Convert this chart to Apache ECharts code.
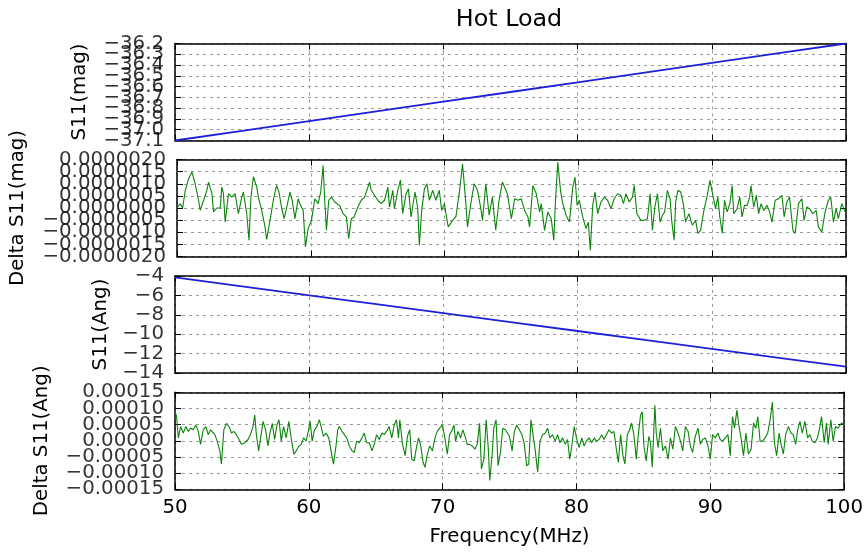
<!DOCTYPE html>
<html>
<head>
<meta charset="utf-8">
<script src="https://cdn.jsdelivr.net/npm/echarts@6/dist/echarts.min.js"></script>
<style>
html,body{margin:0;padding:0;background:#fff;}
#chart{width:866px;height:555px;}
</style>
</head>
<body>
<div id="chart"></div>
<script>
// ---- data ----
const titleText = 'Hot Load';
const xLabel = 'Frequency(MHz)';
const yNames = ['S11(mag)', 'Delta S11(mag)', 'S11(Ang)', 'Delta S11(Ang)'];

// panel 1: S11 magnitude (dB) vs frequency (MHz)
const freqMag = [50, 55, 60, 65, 70, 75, 80, 85, 90, 95, 100];
const s11Mag = [-37.10, -37.01, -36.92, -36.83, -36.74, -36.65, -36.56, -36.47, -36.38, -36.29, -36.20];

// panel 3: S11 angle (deg)
const freqAng = [50, 55, 60, 65, 70, 75, 80, 85, 90, 95, 100];
const s11Ang = [-4.15, -5.07, -5.99, -6.91, -7.83, -8.75, -9.67, -10.59, -11.51, -12.43, -13.35];

// panel 2: delta S11 magnitude, [MHz, value in units of 1e-6]
const deltaMag = [
[50.00,0.00],[50.25,0.18],[50.42,0.00],[50.62,0.73],[50.87,1.21],[51.12,1.48],[51.36,1.00],[51.61,0.32],[51.74,-0.10],[51.99,0.32],
[52.23,0.73],[52.36,1.07],[52.61,0.59],[52.73,-0.16],[52.98,0.00],[53.23,0.00],[53.35,0.86],[53.47,0.59],[53.60,-0.58],[53.85,0.59],
[54.09,0.45],[54.34,0.59],[54.59,-0.23],[54.84,0.45],[54.96,0.66],[55.21,-0.23],[55.38,-1.33],[55.53,0.45],[55.71,1.29],[55.96,0.86],
[56.08,0.45],[56.33,-0.10],[56.58,-0.78],[56.70,-1.30],[56.95,-0.51],[57.20,0.32],[57.44,0.93],[57.62,0.66],[57.82,0.00],[58.01,-0.44],
[58.26,0.18],[58.44,0.66],[58.61,0.32],[58.81,-0.44],[59.06,0.38],[59.18,0.18],[59.43,-0.10],[59.60,-1.60],[59.80,-0.85],[60.05,-0.51],
[60.30,0.38],[60.55,0.18],[60.74,0.66],[60.92,1.75],[61.04,0.32],[61.17,-0.92],[61.34,0.32],[61.54,0.45],[61.79,0.25],[62.16,0.10],
[62.41,-0.23],[62.66,-0.37],[62.83,-1.26],[63.03,-0.44],[63.23,-0.37],[63.52,0.04],[63.77,0.32],[64.02,0.45],[64.27,0.86],[64.39,1.07],
[64.52,0.73],[64.76,0.52],[65.01,0.32],[65.26,0.18],[65.51,0.32],[65.76,0.86],[65.88,0.04],[66.13,0.73],[66.25,-0.03],[66.50,0.73],
[66.70,1.15],[66.87,-0.23],[67.12,0.59],[67.30,0.79],[67.49,-0.37],[67.79,0.66],[67.99,0.00],[68.11,-1.53],[68.29,-0.10],[68.49,0.79],
[68.68,1.00],[68.86,0.32],[69.11,0.73],[69.35,0.32],[69.60,0.73],[69.78,-0.10],[69.98,0.18],[70.27,-0.78],[70.60,-0.51],[70.84,-0.37],
[71.09,0.59],[71.34,1.81],[71.59,0.18],[71.71,-0.78],[71.96,0.18],[72.21,1.00],[72.46,0.73],[72.70,0.00],[72.83,-0.51],[73.08,1.00],
[73.33,-0.30],[73.57,0.45],[73.82,-0.92],[74.07,0.32],[74.32,1.07],[74.69,0.59],[74.99,-0.44],[75.24,0.38],[75.48,0.32],[75.73,0.38],
[75.98,-0.10],[76.23,-0.37],[76.35,-0.78],[76.60,0.93],[76.85,0.59],[77.10,-0.16],[77.22,0.18],[77.47,-0.92],[77.72,-0.16],[77.97,-0.44],
[78.16,-1.33],[78.29,0.32],[78.46,1.89],[78.66,0.73],[78.83,0.18],[79.08,-0.30],[79.33,-0.58],[79.58,0.86],[79.75,1.27],[79.90,0.11],
[80.07,0.32],[80.32,-0.37],[80.57,-0.85],[80.74,-0.58],[80.89,-1.74],[81.07,0.11],[81.24,0.66],[81.44,-0.23],[81.69,0.25],[81.94,0.45],
[82.18,0.32],[82.43,-0.03],[82.68,0.38],[82.93,0.59],[83.18,0.52],[83.37,0.18],[83.55,0.59],[83.80,0.25],[84.04,0.45],[84.17,0.93],
[84.37,-0.23],[84.67,-0.51],[84.91,-0.51],[85.16,-0.44],[85.36,0.59],[85.53,-0.92],[85.71,0.04],[85.91,0.59],[86.10,-0.58],[86.28,-0.30],
[86.45,-0.16],[86.65,0.73],[86.85,0.38],[86.97,-0.51],[87.15,-1.33],[87.27,0.25],[87.44,0.73],[87.64,0.66],[87.84,0.18],[88.01,-0.58],
[88.26,-0.23],[88.51,-0.71],[88.76,-0.51],[88.93,-1.05],[89.13,-0.92],[89.38,-0.10],[89.63,0.52],[89.83,1.14],[90.00,0.66],[90.25,-0.03],
[90.42,0.45],[90.57,-0.37],[90.75,-1.05],[90.92,0.32],[91.12,-0.16],[91.32,0.18],[91.49,0.93],[91.61,-0.23],[91.86,-0.03],[92.06,0.45],
[92.23,-0.37],[92.41,0.11],[92.61,0.11],[92.80,0.45],[92.90,0.93],[93.10,0.04],[93.30,0.52],[93.47,-0.23],[93.65,0.18],[93.85,-0.10],
[94.09,0.11],[94.29,-0.16],[94.47,-0.58],[94.71,0.32],[94.96,0.38],[95.21,0.52],[95.38,-0.37],[95.58,0.25],[95.78,0.45],[96.03,-0.92],
[96.20,-1.05],[96.45,0.18],[96.70,0.38],[96.87,-0.51],[97.07,0.04],[97.27,-0.03],[97.52,-0.23],[97.77,-0.10],[97.94,-0.78],[98.19,-0.99],
[98.44,-0.16],[98.68,0.32],[98.86,0.45],[99.06,-0.58],[99.26,-0.03],[99.43,-0.44],[99.68,0.18],[99.93,-0.16]
];

// panel 4: delta S11 angle, [MHz, value in units of 1e-5]
const deltaAng = [
[50.00,9.0],[50.12,7.5],[50.25,0.9],[50.42,4.4],[50.62,2.4],[50.82,4.4],[50.99,2.9],[51.17,3.9],[51.36,3.4],[51.56,4.9],
[51.74,2.9],[51.91,-1.1],[52.11,3.4],[52.31,4.4],[52.48,1.9],[52.66,3.4],[52.80,3.9],[52.98,1.9],[53.15,-0.1],[53.35,-3.1],
[53.47,-7.2],[53.65,3.4],[53.85,5.4],[54.04,4.4],[54.22,2.4],[54.39,2.9],[54.59,1.9],[54.79,0.4],[54.96,-1.1],[55.21,-0.6],
[55.46,0.4],[55.63,1.9],[55.83,4.4],[55.96,8.0],[56.08,1.9],[56.25,-3.1],[56.40,0.9],[56.58,6.0],[56.77,3.4],[56.95,-1.6],
[57.07,1.9],[57.27,5.4],[57.44,0.4],[57.62,4.9],[57.77,6.5],[57.94,-0.1],[58.11,4.4],[58.31,0.9],[58.51,6.0],[58.68,0.9],
[58.88,-4.1],[59.06,-3.1],[59.26,-1.6],[59.43,-1.1],[59.60,0.9],[59.80,-0.1],[59.98,3.4],[60.10,6.0],[60.25,-0.1],[60.42,3.4],
[60.60,4.4],[60.79,6.5],[60.92,6.5],[61.09,1.4],[61.29,2.4],[61.49,0.9],[61.66,-3.1],[61.84,-7.2],[62.03,-1.6],[62.16,3.4],
[62.28,4.4],[62.48,2.9],[62.66,1.9],[62.83,0.9],[63.03,-1.6],[63.23,-3.1],[63.40,-3.6],[63.57,-0.1],[63.77,-0.6],[63.97,0.9],
[64.14,2.4],[64.32,-0.6],[64.52,-0.6],[64.72,-3.1],[64.89,-1.1],[65.06,1.9],[65.26,0.4],[65.46,2.4],[65.63,1.9],[65.81,2.9],
[66.00,4.4],[66.20,0.9],[66.38,4.9],[66.55,6.5],[66.70,0.9],[66.80,6.5],[67.00,-1.1],[67.20,-4.6],[67.37,1.4],[67.54,3.4],
[67.69,-5.7],[67.87,-6.2],[68.04,-2.1],[68.20,0.9],[68.37,-1.6],[68.54,-6.7],[68.68,-8.2],[68.86,-4.1],[69.03,-1.6],[69.23,-3.1],
[69.43,0.9],[69.60,2.9],[69.78,3.9],[69.98,4.9],[70.17,0.9],[70.35,-4.1],[70.52,1.9],[70.72,3.4],[70.84,4.9],[70.97,-0.1],
[71.14,2.9],[71.34,0.9],[71.51,3.4],[71.71,0.9],[71.84,-1.1],[72.01,-1.1],[72.21,-1.6],[72.41,-2.6],[72.58,-1.1],[72.76,5.4],
[72.90,-8.7],[73.08,-5.7],[73.25,6.5],[73.40,-1.6],[73.52,-12.3],[73.70,-4.1],[73.82,3.9],[73.99,6.5],[74.14,-7.7],[74.32,-3.6],
[74.49,3.9],[74.69,3.4],[74.99,1.4],[75.19,-3.1],[75.36,2.9],[75.53,4.9],[75.73,3.4],[75.93,1.9],[76.10,-1.1],[76.28,-7.7],
[76.43,-7.2],[76.60,6.5],[76.72,2.9],[76.92,-3.1],[77.10,-9.7],[77.27,-0.1],[77.47,1.9],[77.67,2.4],[77.84,3.9],[78.01,0.9],
[78.21,1.9],[78.41,-0.1],[78.59,1.9],[78.76,-0.6],[78.96,0.9],[79.16,-1.1],[79.33,0.4],[79.50,-5.7],[79.65,-1.6],[79.83,4.4],
[80.00,0.9],[80.20,-2.1],[80.40,0.9],[80.57,-1.6],[80.74,-0.1],[80.94,0.9],[81.14,-0.6],[81.32,0.9],[81.49,-0.1],[81.69,0.4],
[81.89,1.9],[82.06,0.4],[82.23,1.9],[82.43,3.4],[82.63,2.4],[82.80,2.9],[82.98,-2.6],[83.13,-6.7],[83.30,1.9],[83.47,-4.6],
[83.62,-7.2],[83.80,1.9],[83.97,3.4],[84.12,5.5],[84.29,1.9],[84.47,-5.7],[84.62,1.9],[84.79,8.0],[84.91,9.0],[85.04,-1.6],
[85.21,-6.2],[85.41,1.4],[85.53,-0.6],[85.66,-8.2],[85.86,11.0],[85.96,2.4],[86.10,-2.1],[86.28,3.9],[86.45,-3.1],[86.65,-1.6],
[86.85,-5.7],[87.02,0.9],[87.20,-2.6],[87.39,4.4],[87.59,2.4],[87.77,-0.1],[87.94,-3.1],[88.14,4.4],[88.34,2.9],[88.51,-1.6],
[88.68,-3.6],[88.88,1.4],[89.08,3.9],[89.26,-1.1],[89.43,0.4],[89.63,0.9],[89.83,-1.6],[90.00,-5.7],[90.17,1.9],[90.37,0.9],
[90.57,2.4],[90.74,0.4],[90.92,-0.1],[91.12,0.9],[91.32,1.9],[91.49,-4.6],[91.66,7.5],[91.81,3.9],[91.99,9.5],[92.11,5.5],
[92.31,0.4],[92.48,-4.6],[92.66,2.4],[92.85,-4.1],[93.05,-2.6],[93.23,5.5],[93.40,3.9],[93.55,7.5],[93.72,-0.1],[93.90,-0.1],
[94.09,0.9],[94.29,2.4],[94.47,6.5],[94.64,12.0],[94.79,-0.6],[94.96,-4.6],[95.14,2.4],[95.29,-1.1],[95.46,-4.1],[95.63,1.9],
[95.83,4.4],[96.03,2.4],[96.20,1.9],[96.38,-1.1],[96.53,3.4],[96.70,6.0],[96.87,2.4],[97.07,6.0],[97.27,0.9],[97.44,1.9],
[97.62,-0.1],[97.82,-0.6],[98.01,0.9],[98.19,4.4],[98.31,7.5],[98.51,-0.6],[98.68,5.5],[98.81,-1.1],[99.01,6.5],[99.18,-0.1],
[99.36,4.4],[99.55,3.9],[99.80,5.5],[100.00,4.9]
];

// tick values and tick labels
const xTicks = [50, 60, 70, 80, 90, 100];
const yTicksMag = [-37.1, -37.0, -36.9, -36.8, -36.7, -36.6, -36.5, -36.4, -36.3, -36.2];
const yLabelsMag = ['\u221237.1', '\u221237.0', '\u221236.9', '\u221236.8', '\u221236.7', '\u221236.6', '\u221236.5', '\u221236.4', '\u221236.3', '\u221236.2'];
const yTicksDMag = [-2, -1.5, -1, -0.5, 0, 0.5, 1, 1.5, 2];
const yLabelsDMag = ['\u22120.0000020', '\u22120.0000015', '\u22120.0000010', '\u22120.0000005', '0.0000000', '0.0000005', '0.0000010', '0.0000015', '0.0000020'];
const yTicksAng = [-14, -12, -10, -8, -6, -4];
const yLabelsAng = ['\u221214', '\u221212', '\u221210', '\u22128', '\u22126', '\u22124'];
const yTicksDAng = [-15, -10, -5, 0, 5, 10, 15];
const yLabelsDAng = ['\u22120.00015', '\u22120.00010', '\u22120.00005', '0.00000', '0.00005', '0.00010', '0.00015'];

// ---- chart ----
const FONT = 'DejaVu Sans';
const FS = 19.8;
const gridTops = [43.5, 159.5, 276, 392.3];
const gridH = 97;
const plotLeft = 175, plotRight = 20;

const yCfg = [
  {ticks: yTicksMag, labels: yLabelsMag, interval: 0.1, gap: 85},
  {ticks: yTicksDMag, labels: yLabelsDMag, interval: 0.5, gap: 149},
  {ticks: yTicksAng, labels: yLabelsAng, interval: 2, gap: 64},
  {ticks: yTicksDAng, labels: yLabelsDAng, interval: 5, gap: 123}
];

const lineStyleAxis = {show: true, onZero: false, lineStyle: {color: '#000', width: 1.5}};
const tickStyle = {show: true, inside: true, length: 6, lineStyle: {color: '#000', width: 1}};
const gridLine = {show: true, lineStyle: {color: '#9a9a9a', width: 1, type: [3, 4]}};

const grids = [], xAxes = [], yAxes = [], series = [];
for (let i = 0; i < 4; i++) {
  grids.push({left: plotLeft, right: plotRight, top: gridTops[i], height: gridH});
  xAxes.push({
    type: 'value', gridIndex: i, position: 'bottom', min: xTicks[0], max: xTicks[xTicks.length - 1], interval: 10,
    axisLine: lineStyleAxis, axisTick: tickStyle, splitLine: gridLine,
    axisLabel: {show: i === 3, color: '#000', fontFamily: FONT, fontSize: FS, margin: 9, showMinLabel: true, showMaxLabel: true},
    name: i === 3 ? xLabel : '', nameLocation: 'middle', nameGap: 38,
    nameTextStyle: {color: '#000', fontFamily: FONT, fontSize: FS}
  });
  xAxes.push({
    type: 'value', gridIndex: i, position: 'top', min: xTicks[0], max: xTicks[xTicks.length - 1], interval: 10,
    axisLine: lineStyleAxis, axisTick: tickStyle, splitLine: {show: false}, axisLabel: {show: false}
  });
  const c = yCfg[i];
  const ymin = c.ticks[0], ymax = c.ticks[c.ticks.length - 1];
  yAxes.push({
    type: 'value', gridIndex: i, position: 'left', min: ymin, max: ymax, interval: c.interval,
    axisLine: lineStyleAxis, axisTick: tickStyle, splitLine: gridLine,
    axisLabel: {show: false},
    name: yNames[i], nameLocation: 'middle', nameGap: c.gap, nameMoveOverlap: false,
    nameTextStyle: {color: '#000', fontFamily: FONT, fontSize: FS}
  });
  yAxes.push({
    type: 'value', gridIndex: i, position: 'right', min: ymin, max: ymax, interval: c.interval,
    axisLine: lineStyleAxis, axisTick: tickStyle, splitLine: {show: false}, axisLabel: {show: false}
  });
  // y tick labels, placed through the panel's own scales (all drawn, overlapping like the original)
  series.push({
    type: 'scatter', xAxisIndex: 2 * i, yAxisIndex: 2 * i, silent: true, clip: false,
    symbol: 'circle', symbolSize: 0, z: 10,
    data: c.ticks.map((v, k) => ({value: [xTicks[0], v], name: c.labels[k]})),
    label: {show: true, position: 'left', distance: 11, formatter: p => p.name,
      color: '#000', fontFamily: FONT, fontSize: FS},
    labelLayout: {hideOverlap: false}
  });
}

const zip = (xs, ys) => xs.map((x, k) => [x, ys[k]]);
series.push({type: 'line', xAxisIndex: 0, yAxisIndex: 0, data: zip(freqMag, s11Mag), showSymbol: false,
  lineStyle: {color: '#1f1fd8', width: 1.8}, z: 5});
series.push({type: 'line', xAxisIndex: 2, yAxisIndex: 2, data: deltaMag, showSymbol: false,
  lineStyle: {color: '#0a850a', width: 1.1}, z: 5});
series.push({type: 'line', xAxisIndex: 4, yAxisIndex: 4, data: zip(freqAng, s11Ang), showSymbol: false,
  lineStyle: {color: '#1f1fd8', width: 1.8}, z: 5});
series.push({type: 'line', xAxisIndex: 6, yAxisIndex: 6, data: deltaAng, showSymbol: false,
  lineStyle: {color: '#0a850a', width: 1.1}, z: 5});

const chart = echarts.init(document.getElementById('chart'), null, {renderer: 'canvas'});
chart.setOption({
  animation: false,
  backgroundColor: '#fff',
  title: {text: titleText, left: 509, textAlign: 'center', top: 8, padding: 0,
    textStyle: {color: '#000', fontFamily: FONT, fontSize: 23.8, fontWeight: 'normal'}},
  grid: grids, xAxis: xAxes, yAxis: yAxes, series: series
});
</script>
</body>
</html>
